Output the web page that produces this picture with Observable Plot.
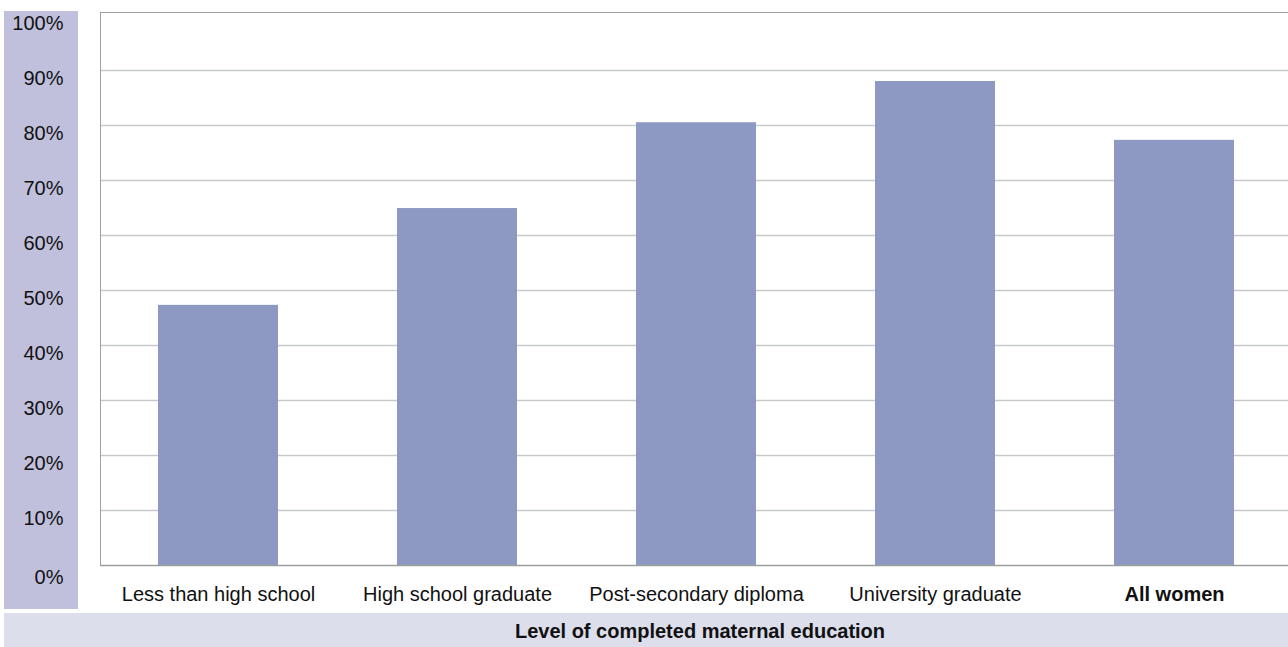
<!DOCTYPE html>
<html>
<head>
<meta charset="utf-8">
<script src="https://cdn.jsdelivr.net/npm/d3@7"></script>
<script src="https://cdn.jsdelivr.net/npm/@observablehq/plot@0.6"></script>
<style>
  html, body { margin: 0; padding: 0; background: #fff; }
  body { width: 1288px; height: 647px; overflow: hidden; position: relative; font-family: "Liberation Sans", Arial, sans-serif; }
  #ypanel { position: absolute; left: 4px; top: 11px; width: 74px; height: 598px; background: #c0c0dd; z-index: 0; }
  #chart { position: absolute; left: 0; top: 0; z-index: 1; }
  #xtitle { position: absolute; left: 4px; top: 613px; width: 1284px; height: 34px; background: #dcdeec;
            box-sizing: border-box; padding-left: 108px; text-align: center; line-height: 36px;
            font-weight: bold; font-size: 20px; color: #111; }
</style>
</head>
<body>
<div id="ypanel"></div>
<div id="chart"></div>
<div id="xtitle">Level of completed maternal education</div>
<script>
const categories = ["Less than high school", "High school graduate", "Post-secondary diploma", "University graduate", "All women"];
const values = [47.3, 64.9, 80.5, 88.0, 77.3];
const yTicks = [10, 20, 30, 40, 50, 60, 70, 80, 90, 100];
const yZeroTick = [0];
const gridTicks = [10, 20, 30, 40, 50, 60, 70, 80, 90];

const data = categories.map((c, i) => ({category: c, value: values[i]}));

const chart = Plot.plot({
  width: 1288,
  height: 612,
  marginLeft: 100,
  marginRight: 0,
  marginTop: 12,
  marginBottom: 47,
  style: {background: "transparent", fontFamily: "'Liberation Sans', Arial, sans-serif", fontSize: "20px", color: "#111", overflow: "visible"},
  x: {domain: categories, range: [98, 1293], paddingInner: 0.5, paddingOuter: 0.25, axis: null},
  y: {domain: [0, 100], range: [565, 15], axis: null},
  marks: [
    Plot.ruleY(gridTicks, {stroke: "#c5c9c9", strokeWidth: 1.3}),
    Plot.frame({anchor: "top", stroke: "#9da1a1"}),
    Plot.barY(data, {x: "category", y: "value", fill: "#8d99c3"}),
    Plot.ruleY([0], {stroke: "#9a9e9e", strokeWidth: 1.5}),
    Plot.frame({anchor: "left", stroke: "#9da1a1"}),
    Plot.axisY(yTicks, {tickSize: 0, tickPadding: 37, dy: 8, tickFormat: d => d + "%", fontSize: 20, fill: "#111", label: null}),
    Plot.axisY(yZeroTick, {tickSize: 0, tickPadding: 37, dy: 12, tickFormat: d => d + "%", fontSize: 20, fill: "#111", label: null}),
    Plot.axisX(categories.slice(0, 4), {tickSize: 0, tickPadding: 21, fontSize: 20, fill: "#111", label: null}),
    Plot.axisX(categories.slice(4), {tickSize: 0, tickPadding: 21, fontSize: 20, fontWeight: "bold", fill: "#111", label: null})
  ]
});
document.getElementById("chart").appendChild(chart);
</script>
</body>
</html>
